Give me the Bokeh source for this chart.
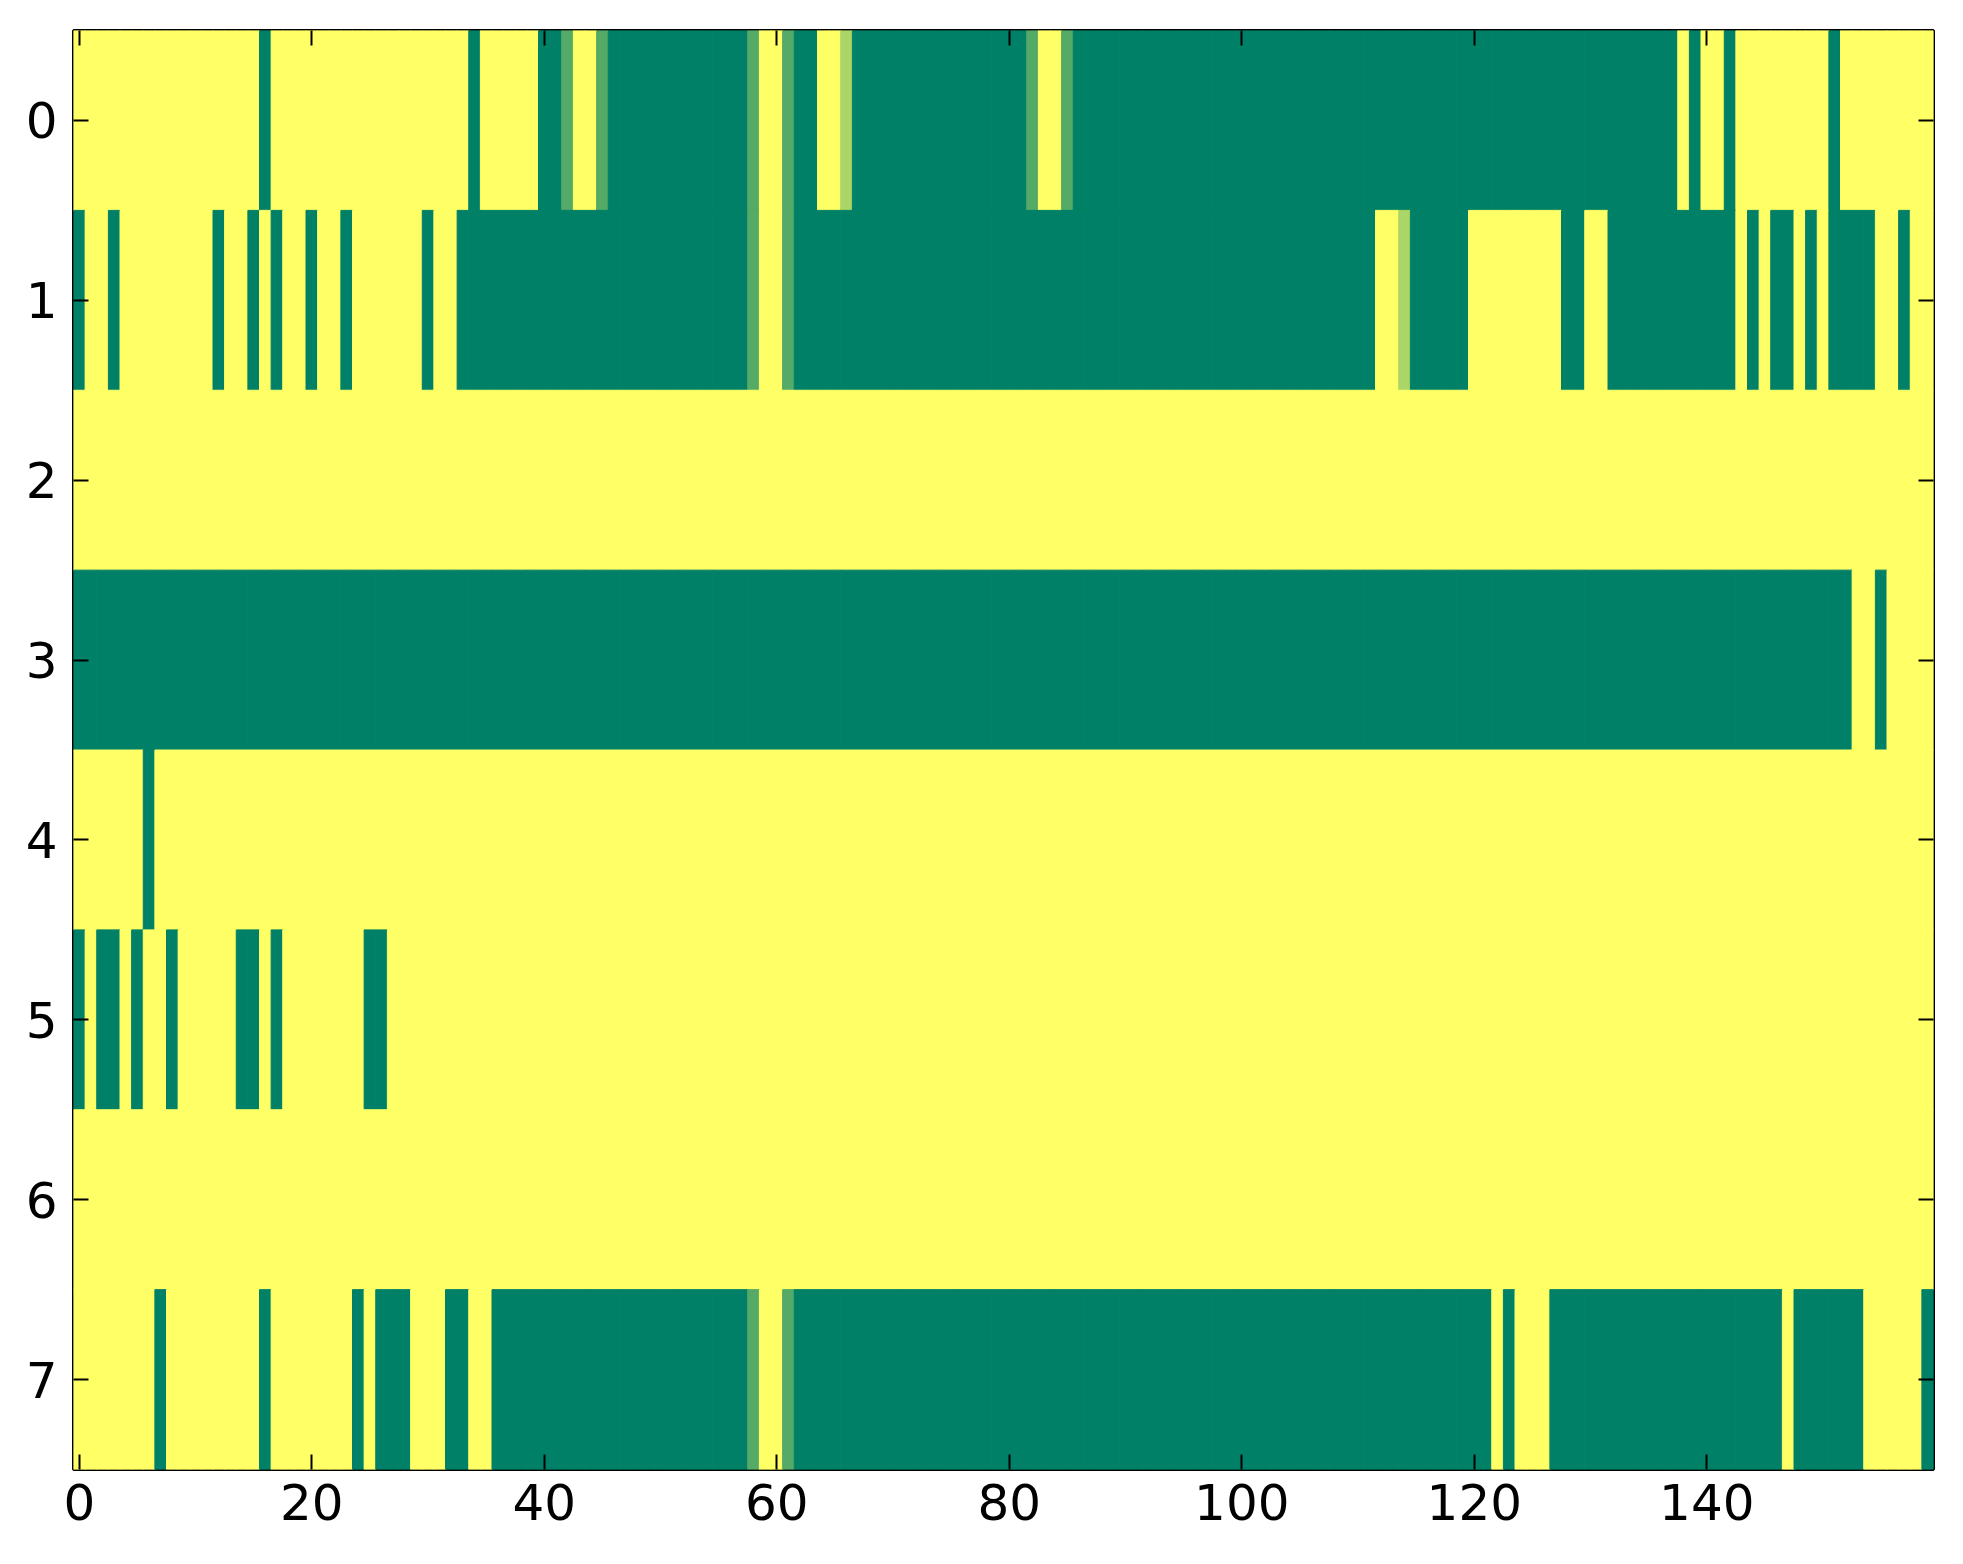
from bokeh.plotting import figure
from bokeh.models import (ColumnDataSource, LinearColorMapper, Range1d, FixedTicker,
                          LinearAxis, CustomJSTickFormatter)
from bokeh.transform import transform
from bokeh.embed import file_html
from bokeh.resources import INLINE

# ---- data: one list per row (160 columns each), values 0..1 ----
row0 = [1, 1, 1, 1, 1, 1, 1, 1, 1, 1, 1, 1, 1, 1, 1, 1, 0, 1, 1, 1,
        1, 1, 1, 1, 1, 1, 1, 1, 1, 1, 1, 1, 1, 1, 0, 1, 1, 1, 1, 1,
        0, 0, 0.33, 1, 1, 0.33, 0, 0, 0, 0, 0, 0, 0, 0, 0, 0, 0, 0, 0.33, 1,
        1, 0.33, 0, 0, 1, 1, 0.67, 0, 0, 0, 0, 0, 0, 0, 0, 0, 0, 0, 0, 0,
        0, 0, 0.33, 1, 1, 0.33, 0, 0, 0, 0, 0, 0, 0, 0, 0, 0, 0, 0, 0, 0,
        0, 0, 0, 0, 0, 0, 0, 0, 0, 0, 0, 0, 0, 0, 0, 0, 0, 0, 0, 0,
        0, 0, 0, 0, 0, 0, 0, 0, 0, 0, 0, 0, 0, 0, 0, 0, 0, 0, 1, 0,
        1, 1, 0, 1, 1, 1, 1, 1, 1, 1, 1, 0, 1, 1, 1, 1, 1, 1, 1, 1]

row1 = [0, 1, 1, 0, 1, 1, 1, 1, 1, 1, 1, 1, 0, 1, 1, 0, 1, 0, 1, 1,
        0, 1, 1, 0, 1, 1, 1, 1, 1, 1, 0, 1, 1, 0, 0, 0, 0, 0, 0, 0,
        0, 0, 0, 0, 0, 0, 0, 0, 0, 0, 0, 0, 0, 0, 0, 0, 0, 0, 0.33, 1,
        1, 0.33, 0, 0, 0, 0, 0, 0, 0, 0, 0, 0, 0, 0, 0, 0, 0, 0, 0, 0,
        0, 0, 0, 0, 0, 0, 0, 0, 0, 0, 0, 0, 0, 0, 0, 0, 0, 0, 0, 0,
        0, 0, 0, 0, 0, 0, 0, 0, 0, 0, 0, 0, 1, 1, 0.67, 0, 0, 0, 0, 0,
        1, 1, 1, 1, 1, 1, 1, 1, 0, 0, 1, 1, 0, 0, 0, 0, 0, 0, 0, 0,
        0, 0, 0, 1, 0, 1, 0, 0, 1, 0, 1, 0, 0, 0, 0, 1, 1, 0, 1, 1]

row2 = [1, 1, 1, 1, 1, 1, 1, 1, 1, 1, 1, 1, 1, 1, 1, 1, 1, 1, 1, 1,
        1, 1, 1, 1, 1, 1, 1, 1, 1, 1, 1, 1, 1, 1, 1, 1, 1, 1, 1, 1,
        1, 1, 1, 1, 1, 1, 1, 1, 1, 1, 1, 1, 1, 1, 1, 1, 1, 1, 1, 1,
        1, 1, 1, 1, 1, 1, 1, 1, 1, 1, 1, 1, 1, 1, 1, 1, 1, 1, 1, 1,
        1, 1, 1, 1, 1, 1, 1, 1, 1, 1, 1, 1, 1, 1, 1, 1, 1, 1, 1, 1,
        1, 1, 1, 1, 1, 1, 1, 1, 1, 1, 1, 1, 1, 1, 1, 1, 1, 1, 1, 1,
        1, 1, 1, 1, 1, 1, 1, 1, 1, 1, 1, 1, 1, 1, 1, 1, 1, 1, 1, 1,
        1, 1, 1, 1, 1, 1, 1, 1, 1, 1, 1, 1, 1, 1, 1, 1, 1, 1, 1, 1]

row3 = [0, 0, 0, 0, 0, 0, 0, 0, 0, 0, 0, 0, 0, 0, 0, 0, 0, 0, 0, 0,
        0, 0, 0, 0, 0, 0, 0, 0, 0, 0, 0, 0, 0, 0, 0, 0, 0, 0, 0, 0,
        0, 0, 0, 0, 0, 0, 0, 0, 0, 0, 0, 0, 0, 0, 0, 0, 0, 0, 0, 0,
        0, 0, 0, 0, 0, 0, 0, 0, 0, 0, 0, 0, 0, 0, 0, 0, 0, 0, 0, 0,
        0, 0, 0, 0, 0, 0, 0, 0, 0, 0, 0, 0, 0, 0, 0, 0, 0, 0, 0, 0,
        0, 0, 0, 0, 0, 0, 0, 0, 0, 0, 0, 0, 0, 0, 0, 0, 0, 0, 0, 0,
        0, 0, 0, 0, 0, 0, 0, 0, 0, 0, 0, 0, 0, 0, 0, 0, 0, 0, 0, 0,
        0, 0, 0, 0, 0, 0, 0, 0, 0, 0, 0, 0, 0, 1, 1, 0, 1, 1, 1, 1]

row4 = [1, 1, 1, 1, 1, 1, 0, 1, 1, 1, 1, 1, 1, 1, 1, 1, 1, 1, 1, 1,
        1, 1, 1, 1, 1, 1, 1, 1, 1, 1, 1, 1, 1, 1, 1, 1, 1, 1, 1, 1,
        1, 1, 1, 1, 1, 1, 1, 1, 1, 1, 1, 1, 1, 1, 1, 1, 1, 1, 1, 1,
        1, 1, 1, 1, 1, 1, 1, 1, 1, 1, 1, 1, 1, 1, 1, 1, 1, 1, 1, 1,
        1, 1, 1, 1, 1, 1, 1, 1, 1, 1, 1, 1, 1, 1, 1, 1, 1, 1, 1, 1,
        1, 1, 1, 1, 1, 1, 1, 1, 1, 1, 1, 1, 1, 1, 1, 1, 1, 1, 1, 1,
        1, 1, 1, 1, 1, 1, 1, 1, 1, 1, 1, 1, 1, 1, 1, 1, 1, 1, 1, 1,
        1, 1, 1, 1, 1, 1, 1, 1, 1, 1, 1, 1, 1, 1, 1, 1, 1, 1, 1, 1]

row5 = [0, 1, 0, 0, 1, 0, 1, 1, 0, 1, 1, 1, 1, 1, 0, 0, 1, 0, 1, 1,
        1, 1, 1, 1, 1, 0, 0, 1, 1, 1, 1, 1, 1, 1, 1, 1, 1, 1, 1, 1,
        1, 1, 1, 1, 1, 1, 1, 1, 1, 1, 1, 1, 1, 1, 1, 1, 1, 1, 1, 1,
        1, 1, 1, 1, 1, 1, 1, 1, 1, 1, 1, 1, 1, 1, 1, 1, 1, 1, 1, 1,
        1, 1, 1, 1, 1, 1, 1, 1, 1, 1, 1, 1, 1, 1, 1, 1, 1, 1, 1, 1,
        1, 1, 1, 1, 1, 1, 1, 1, 1, 1, 1, 1, 1, 1, 1, 1, 1, 1, 1, 1,
        1, 1, 1, 1, 1, 1, 1, 1, 1, 1, 1, 1, 1, 1, 1, 1, 1, 1, 1, 1,
        1, 1, 1, 1, 1, 1, 1, 1, 1, 1, 1, 1, 1, 1, 1, 1, 1, 1, 1, 1]

row6 = [1, 1, 1, 1, 1, 1, 1, 1, 1, 1, 1, 1, 1, 1, 1, 1, 1, 1, 1, 1,
        1, 1, 1, 1, 1, 1, 1, 1, 1, 1, 1, 1, 1, 1, 1, 1, 1, 1, 1, 1,
        1, 1, 1, 1, 1, 1, 1, 1, 1, 1, 1, 1, 1, 1, 1, 1, 1, 1, 1, 1,
        1, 1, 1, 1, 1, 1, 1, 1, 1, 1, 1, 1, 1, 1, 1, 1, 1, 1, 1, 1,
        1, 1, 1, 1, 1, 1, 1, 1, 1, 1, 1, 1, 1, 1, 1, 1, 1, 1, 1, 1,
        1, 1, 1, 1, 1, 1, 1, 1, 1, 1, 1, 1, 1, 1, 1, 1, 1, 1, 1, 1,
        1, 1, 1, 1, 1, 1, 1, 1, 1, 1, 1, 1, 1, 1, 1, 1, 1, 1, 1, 1,
        1, 1, 1, 1, 1, 1, 1, 1, 1, 1, 1, 1, 1, 1, 1, 1, 1, 1, 1, 1]

row7 = [1, 1, 1, 1, 1, 1, 1, 0, 1, 1, 1, 1, 1, 1, 1, 1, 0, 1, 1, 1,
        1, 1, 1, 1, 0, 1, 0, 0, 0, 1, 1, 1, 0, 0, 1, 1, 0, 0, 0, 0,
        0, 0, 0, 0, 0, 0, 0, 0, 0, 0, 0, 0, 0, 0, 0, 0, 0, 0, 0.33, 1,
        1, 0.33, 0, 0, 0, 0, 0, 0, 0, 0, 0, 0, 0, 0, 0, 0, 0, 0, 0, 0,
        0, 0, 0, 0, 0, 0, 0, 0, 0, 0, 0, 0, 0, 0, 0, 0, 0, 0, 0, 0,
        0, 0, 0, 0, 0, 0, 0, 0, 0, 0, 0, 0, 0, 0, 0, 0, 0, 0, 0, 0,
        0, 0, 1, 0, 1, 1, 1, 0, 0, 0, 0, 0, 0, 0, 0, 0, 0, 0, 0, 0,
        0, 0, 0, 0, 0, 0, 0, 1, 0, 0, 0, 0, 0, 0, 1, 1, 1, 1, 1, 0]

rows = [row0, row1, row2, row3, row4, row5, row6, row7]
x_ticks = [0, 20, 40, 60, 80, 100, 120, 140]
y_ticks = [0, 1, 2, 3, 4, 5, 6, 7]

# matplotlib "summer" colormap as a palette
summer = []
for i in range(256):
    r = i / 255.0
    summer.append("#%02x%02x%02x" % (round(255 * r), round(255 * (0.5 + r / 2)), round(255 * 0.4)))

xs, ys, vs = [], [], []
for ri, row in enumerate(rows):
    for ci, v in enumerate(row):
        xs.append(ci)
        ys.append(ri)
        vs.append(v)
src = ColumnDataSource(dict(x=xs, y=ys, v=vs))
mapper = LinearColorMapper(palette=summer, low=0, high=1)

ncol = len(row0)
nrow = len(rows)
p = figure(width=1947, height=1539, output_backend="svg", toolbar_location=None,
           x_range=Range1d(-0.5, ncol - 0.5), y_range=Range1d(nrow - 0.5, -0.5),
           min_border_left=73, min_border_right=14, min_border_top=30, min_border_bottom=70,
           background_fill_color="white", border_fill_color="white")

p.rect(x="x", y="y", width=1, height=1, source=src,
       fill_color=transform("v", mapper), line_color=transform("v", mapper), line_width=1)

p.grid.visible = False
p.outline_line_color = "black"
p.outline_line_width = 3

font = "DejaVu Sans"


def style_axis(ax, ticks, labels=True, standoff=10):
    ax.ticker = FixedTicker(ticks=ticks)
    ax.axis_line_color = None
    ax.major_tick_in = 15
    ax.major_tick_out = 0
    ax.major_tick_line_width = 2
    ax.major_tick_line_color = "black"
    ax.minor_tick_line_color = None
    ax.major_label_text_font = font
    ax.major_label_text_font_size = "50px"
    ax.major_label_text_color = "black"
    ax.major_label_standoff = standoff
    if not labels:
        ax.formatter = CustomJSTickFormatter(code="return ''")
        ax.major_label_standoff = 0


style_axis(p.xaxis[0], x_ticks, standoff=14)
style_axis(p.yaxis[0], y_ticks, standoff=16)

top_ax = LinearAxis()
style_axis(top_ax, x_ticks, labels=False)
p.add_layout(top_ax, "above")
right_ax = LinearAxis()
style_axis(right_ax, y_ticks, labels=False)
p.add_layout(right_ax, "right")

open("out.html", "w").write(file_html(p, INLINE))
